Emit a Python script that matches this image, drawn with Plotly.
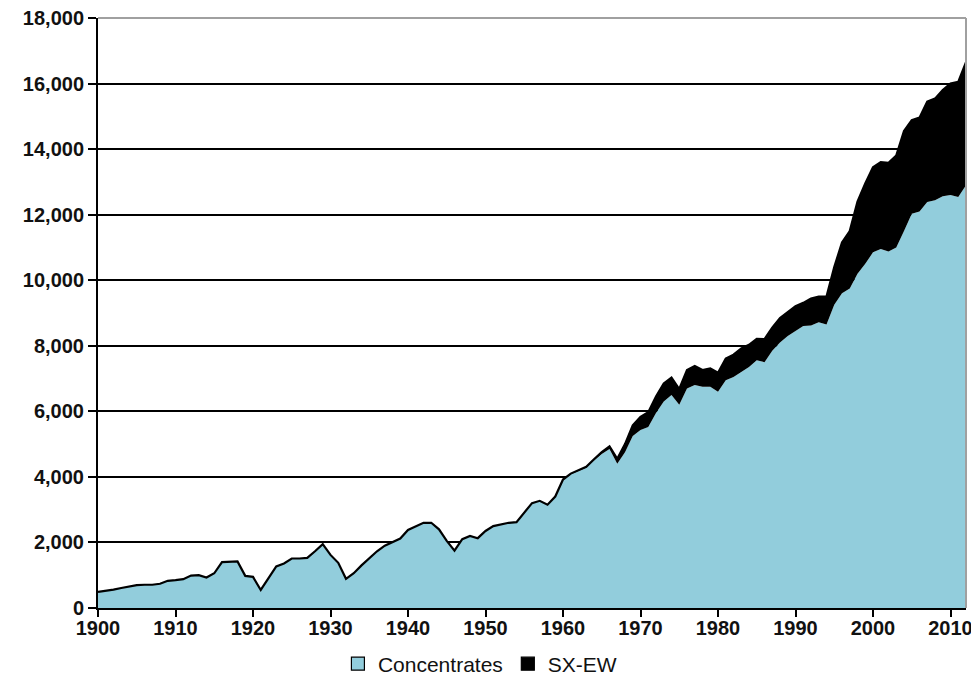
import plotly.graph_objects as go

years = list(range(1900, 2013))

concentrates = [
    490, 520, 560, 610, 660, 700, 710, 710, 740, 830,      # 1900-1909
    850, 880, 990, 1000, 930, 1060, 1400, 1420, 1420, 980, # 1910-1919
    950, 550, 930, 1270, 1360, 1510, 1510, 1530, 1730, 1950,  # 1920-1929
    1620, 1380, 890, 1060, 1300, 1530, 1730, 1900, 2000, 2120,  # 1930-1939
    2380, 2500, 2600, 2600, 2400, 2050, 1750, 2100, 2200, 2130,  # 1940-1949
    2350, 2500, 2560, 2600, 2620, 2900, 3200, 3270, 3150, 3400,  # 1950-1959
    3900, 4080, 4180, 4280, 4500, 4700, 4850, 4400, 4750, 5250,  # 1960-1969
    5430, 5520, 5950, 6300, 6500, 6200, 6700, 6800, 6750, 6750,  # 1970-1979
    6600, 6950, 7050, 7200, 7350, 7560, 7500, 7850, 8100, 8300,  # 1980-1989
    8450, 8600, 8620, 8720, 8650, 9250, 9600, 9750, 10200, 10500,  # 1990-1999
    10850, 10950, 10880, 11000, 11500, 12030, 12100, 12390, 12440, 12560,  # 2000-2009
    12600, 12540, 12900,  # 2010-2012
]

sxew = [
    0, 0, 0, 0, 0, 0, 0, 0, 0, 0,
    0, 0, 0, 0, 0, 0, 0, 0, 0, 0,
    0, 0, 0, 0, 0, 0, 0, 0, 0, 0,
    0, 0, 0, 0, 0, 0, 0, 0, 0, 0,
    0, 0, 0, 0, 0, 0, 0, 0, 0, 0,
    0, 0, 0, 0, 0, 0, 0, 0, 0, 0,
    20, 20, 30, 30, 40, 60, 80, 150, 250, 320,
    400, 450, 500, 550, 530, 480, 560, 580, 510, 560,
    580, 660, 680, 720, 680, 650, 700, 700, 750, 740,
    760, 710, 820, 780, 850, 1150, 1550, 1750, 2200, 2450,
    2600, 2650, 2700, 2800, 3050, 2850, 2860, 3060, 3100, 3240,
    3400, 3510, 3750,
]

y_ticks = list(range(0, 18001, 2000))
x_ticks = list(range(1900, 2011, 10))

BLUE = "#92CDDC"

fig = go.Figure()
fig.add_trace(go.Scatter(
    x=years, y=concentrates, name="Concentrates", stackgroup="one",
    mode="lines", line=dict(width=0, color=BLUE), fillcolor=BLUE,
    showlegend=False, hoverinfo="x+y"))
fig.add_trace(go.Scatter(
    x=years, y=sxew, name="SX-EW", stackgroup="one",
    mode="lines", line=dict(width=2.2, color="black"), fillcolor="black",
    showlegend=False, hoverinfo="x+y"))

# legend entries
fig.add_trace(go.Scatter(
    x=[None], y=[None], name="Concentrates", mode="markers",
    marker=dict(symbol="square", size=13, color=BLUE,
                line=dict(color="black", width=1.2))))
fig.add_trace(go.Scatter(
    x=[None], y=[None], name="SX-EW", mode="markers",
    marker=dict(symbol="square", size=13, color="black",
                line=dict(color="black", width=1.2))))

tickfont = dict(family="Liberation Sans, Arial, sans-serif", size=20,
                color="#111111", weight="bold")

fig.update_layout(
    width=971, height=671,
    margin=dict(l=90, r=13, t=10, b=71, autoexpand=False),
    paper_bgcolor="white", plot_bgcolor="white",
    showlegend=True,
    legend=dict(orientation="h", x=0.44, xanchor="center", y=-0.095,
                yanchor="middle", traceorder="normal",
                font=dict(family="Liberation Sans, Arial, sans-serif",
                          size=21, color="#111111"),
                itemwidth=30, tracegroupgap=0, bgcolor="rgba(0,0,0,0)"),
    xaxis=dict(range=[1900, 2012], tickmode="array", tickvals=x_ticks,
               ticktext=[str(v) for v in x_ticks], automargin=False,
               ticklabeloverflow="allow", ticklabelstandoff=-6,
               showgrid=False, showline=True, linecolor="black", linewidth=2,
               ticks="outside", ticklen=7, tickwidth=2, tickcolor="black",
               tickfont=tickfont, zeroline=False),
    yaxis=dict(range=[0, 18000], tickmode="array", tickvals=y_ticks,
               ticktext=[f"{v:,}" for v in y_ticks], automargin=False,
               ticklabeloverflow="allow",
               showgrid=True, gridcolor="black", gridwidth=1.6,
               showline=True, linecolor="black", linewidth=2,
               ticks="outside", ticklen=8, tickwidth=2, tickcolor="black",
               tickfont=tickfont, zeroline=False),
    shapes=[
        dict(type="line", xref="paper", yref="paper", x0=0, x1=1, y0=1, y1=1,
             line=dict(color="#a0a0a0", width=2), layer="above"),
        dict(type="line", xref="paper", yref="paper", x0=1, x1=1, y0=0, y1=1,
             line=dict(color="#a0a0a0", width=2), layer="above"),
    ],
)

fig.write_html("out.html")
